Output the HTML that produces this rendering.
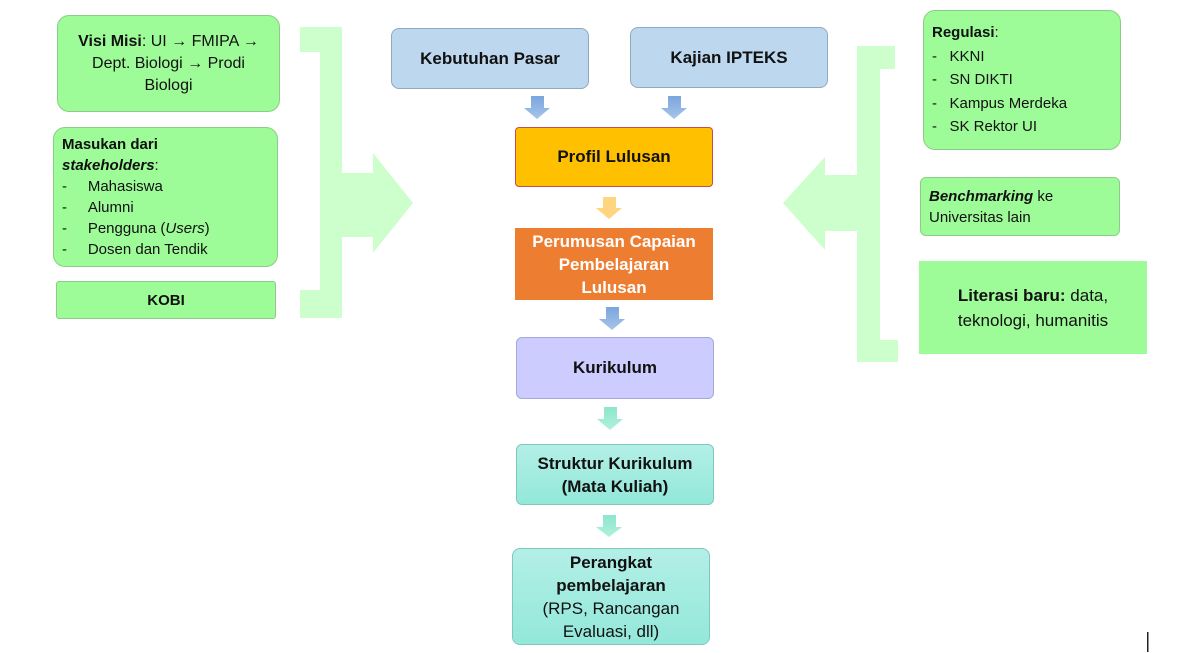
<!DOCTYPE html>
<html><head><meta charset="utf-8"><style>
body{margin:0;width:1200px;height:653px;background:#fff;position:relative;overflow:hidden;font-family:"Liberation Sans",sans-serif;color:#111}
.b{position:absolute;box-sizing:border-box;display:flex;flex-direction:column;justify-content:center}
.g{background:#9dfc98;border:1px solid #8ccc88;border-radius:12px}
.c{text-align:center;align-items:center}
.bl{background:#bdd7ee;border:1px solid #8fa9c0;border-radius:8px;font-weight:bold;font-size:17px}
.t{font-size:15px;line-height:21px}
</style></head><body>
<svg width="1200" height="653" style="position:absolute;left:0;top:0">
<g fill="#ccffcc">
<path d="M300 27H342V173H373V153L413 203L373 253V237H342V318H300V290H320V52H300Z"/>
<path d="M895 46H857V175H825V157L783 203L825 250V231H857V362H898V340H880V69H895Z"/>
</g>
<defs>
<linearGradient id="ab" x1="0" y1="0" x2="0" y2="1"><stop offset="0" stop-color="#7aa6de"/><stop offset="1" stop-color="#a7c4ea"/></linearGradient>
<linearGradient id="at" x1="0" y1="0" x2="0" y2="1"><stop offset="0" stop-color="#8de6cc"/><stop offset="1" stop-color="#b0f0dc"/></linearGradient>
</defs>
<g fill="url(#ab)">
<path d="M531 96H544V108H550L537 119L524 108H531Z"/>
<path d="M668 96H681V108H687L674 119L661 108H668Z"/>
<path d="M606 307H619V319H625L612 330L599 319H606Z"/>
</g>
<path fill="#ffd580" d="M603 197H616V208H622L609 219L596 208H603Z"/>
<g fill="url(#at)">
<path d="M604 407H617V419H623L610 430L597 419H604Z"/>
<path d="M603 515H616V527H622L609 537L596 527H603Z"/>
</g>
<rect x="1147" y="632" width="1.5" height="20" fill="#222"/>
</svg>

<div class="b g c t" style="left:57px;top:15px;width:223px;height:97px;font-size:16px;line-height:22px"><div><b>Visi Misi</b>: UI → FMIPA →<br>Dept. Biologi → Prodi<br>Biologi</div></div>
<div class="b g t" style="left:53px;top:127px;width:225px;height:140px;padding-left:8px;font-size:15px;line-height:21px"><div><b>Masukan dari<br><i>stakeholders</i></b>:<br>-&nbsp;&nbsp;&nbsp;&nbsp;&nbsp;Mahasiswa<br>-&nbsp;&nbsp;&nbsp;&nbsp;&nbsp;Alumni<br>-&nbsp;&nbsp;&nbsp;&nbsp;&nbsp;Pengguna (<i>Users</i>)<br>-&nbsp;&nbsp;&nbsp;&nbsp;&nbsp;Dosen dan Tendik</div></div>
<div class="b g c t" style="left:56px;top:281px;width:220px;height:38px;border-radius:3px;font-weight:bold">KOBI</div>

<div class="b g t" style="left:923px;top:10px;width:198px;height:140px;padding-left:8px;font-size:15px;line-height:23.5px"><div><b>Regulasi</b>:<br>-&nbsp;&nbsp;&nbsp;KKNI<br>-&nbsp;&nbsp;&nbsp;SN DIKTI<br>-&nbsp;&nbsp;&nbsp;Kampus Merdeka<br>-&nbsp;&nbsp;&nbsp;SK Rektor UI</div></div>
<div class="b g t" style="left:920px;top:177px;width:200px;height:59px;border-radius:6px;padding-left:8px"><div><b><i>Benchmarking</i></b> ke<br>Universitas lain</div></div>
<div class="b c" style="left:919px;top:261px;width:228px;height:93px;background:#9dfc98;font-size:17px;line-height:25px"><div><b>Literasi baru:</b> data,<br>teknologi, humanitis</div></div>

<div class="b bl c" style="left:391px;top:28px;width:198px;height:61px">Kebutuhan Pasar</div>
<div class="b bl c" style="left:630px;top:27px;width:198px;height:61px">Kajian IPTEKS</div>
<div class="b c" style="left:515px;top:127px;width:198px;height:60px;background:#ffc000;border:1px solid #c0504d;border-radius:4px;font-weight:bold;font-size:17px">Profil Lulusan</div>
<div class="b c" style="left:515px;top:228px;width:198px;height:72px;background:#ed7d31;color:#fff;font-weight:bold;font-size:17px;line-height:23px"><div>Perumusan Capaian<br>Pembelajaran<br>Lulusan</div></div>
<div class="b c" style="left:516px;top:337px;width:198px;height:62px;background:#ccccff;border:1px solid #a8a8d8;border-radius:6px;font-weight:bold;font-size:17px">Kurikulum</div>
<div class="b c" style="left:516px;top:444px;width:198px;height:61px;background:linear-gradient(#b3efe6,#93e8da);border:1px solid #80c8bc;border-radius:6px;font-weight:bold;font-size:17px;line-height:23px"><div>Struktur Kurikulum<br>(Mata Kuliah)</div></div>
<div class="b c" style="left:512px;top:548px;width:198px;height:97px;background:linear-gradient(#b3efe6,#93e8da);border:1px solid #80c8bc;border-radius:8px;font-size:17px;line-height:23px"><div><b>Perangkat<br>pembelajaran</b><br>(RPS, Rancangan<br>Evaluasi, dll)</div></div>
</body></html>
